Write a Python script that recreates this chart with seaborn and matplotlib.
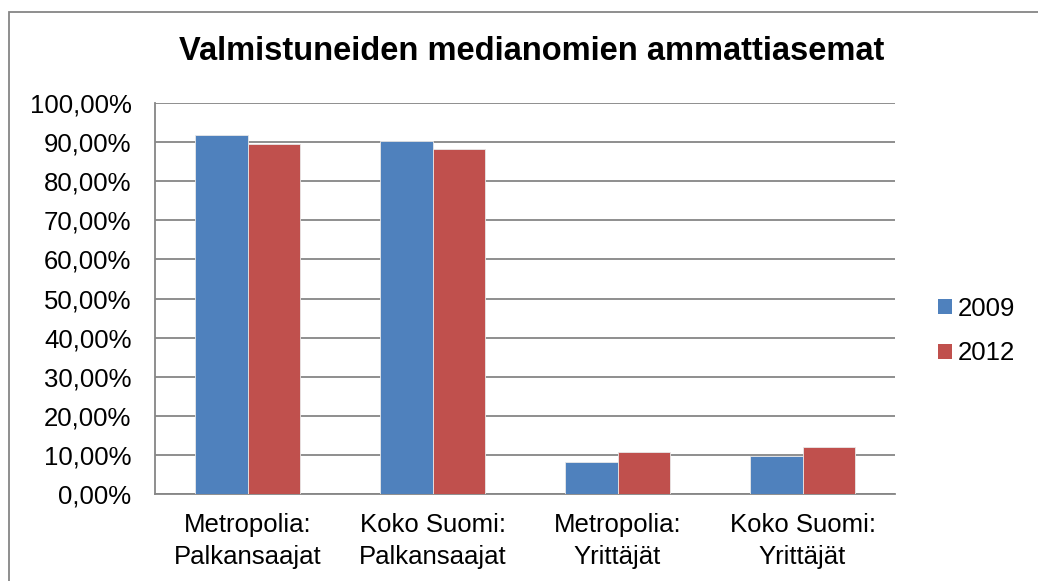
import matplotlib
matplotlib.use("Agg")
import matplotlib.pyplot as plt
import seaborn as sns
import pandas as pd
from matplotlib.patches import Patch
from matplotlib.ticker import FuncFormatter

categories = ["Metropolia:\nPalkansaajat", "Koko Suomi:\nPalkansaajat",
              "Metropolia:\nYrittäjät", "Koko Suomi:\nYrittäjät"]
years = ["2009", "2012"]
values_2009 = [91.8, 90.4, 8.3, 9.8]
values_2012 = [89.5, 88.2, 10.7, 12.1]
colors = ["#4F81BD", "#C0504D"]

df = pd.DataFrame({
    "category": categories * 2,
    "year": [years[0]] * 4 + [years[1]] * 4,
    "value": values_2009 + values_2012,
})

sns.set_theme(style="white")
plt.rcParams["font.family"] = ["Liberation Sans", "DejaVu Sans"]
plt.rcParams["text.color"] = "black"

fig = plt.figure(figsize=(10.38, 5.81), dpi=100)
ax = fig.add_axes([155/1038, 1 - 494/581, (895 - 155)/1038, (494 - 103)/581])

sns.barplot(data=df, x="category", y="value", hue="year", palette=colors,
            width=0.57, gap=0, saturation=1, ax=ax, legend=False, zorder=3,
            linewidth=0.6, edgecolor="#e8e8e8")

ax.set_ylim(0, 100)
ax.set_yticks(range(0, 101, 10))
ax.yaxis.set_major_formatter(FuncFormatter(lambda v, p: f"{v:.2f}".replace(".", ",") + "%"))
ax.grid(axis="y", color="#868686", linewidth=1.3, zorder=0)
ax.set_axisbelow(True)
for s in ["top", "right"]:
    ax.spines[s].set_visible(False)
for s in ["left", "bottom"]:
    ax.spines[s].set_color("#868686")
    ax.spines[s].set_linewidth(1.3)
ax.set_xlabel("")
ax.set_ylabel("")
ax.tick_params(axis="y", labelsize=18.5, pad=17, length=0, colors="black")
ax.tick_params(axis="x", labelsize=18.5, pad=14, length=0, colors="black")
for lbl in ax.get_xticklabels():
    lbl.set_linespacing(1.38)

fig.text(532/1038, 1 - 51/581, "Valmistuneiden medianomien ammattiasemat",
         ha="center", va="center", fontsize=23.5, fontweight="bold", color="black")

handles = [Patch(facecolor=c, edgecolor="none") for c in colors]
fig.legend(handles, years, loc="center left", bbox_to_anchor=(938/1038, 1 - 331/581),
           frameon=False, fontsize=18.5, handlelength=0.54, handleheight=0.54,
           handletextpad=0.22, labelspacing=0.8, borderaxespad=0, borderpad=0)

# outer chart border (left and top visible)
fig.add_artist(plt.Rectangle((9/1038, -0.1), 1.2, 1 - 12/581 + 0.1,
                             transform=fig.transFigure, fill=False,
                             edgecolor="#868686", linewidth=1.3))

fig.savefig("out.png", dpi=100)
